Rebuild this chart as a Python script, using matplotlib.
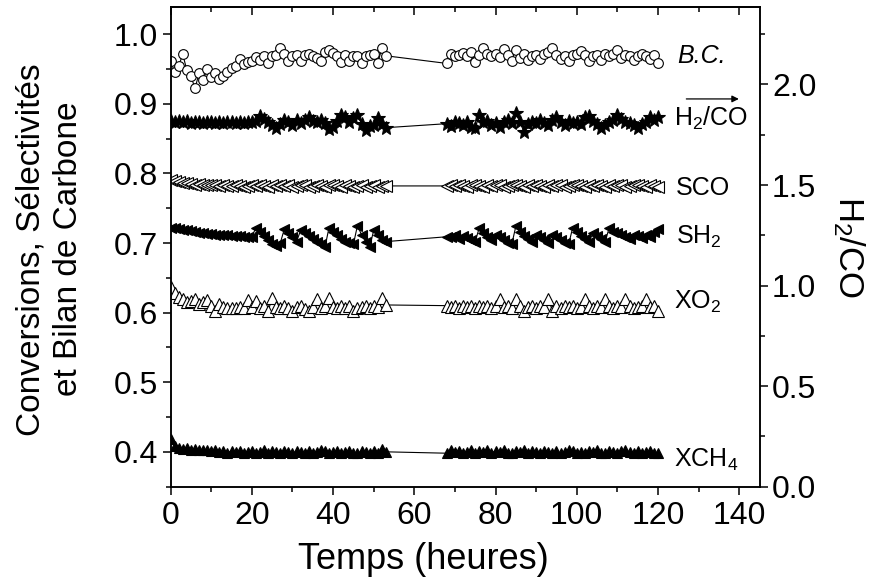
import numpy as np
import matplotlib
matplotlib.use("Agg")
import matplotlib.pyplot as plt
from matplotlib.ticker import FormatStrFormatter

plt.rcParams['font.family'] = ['Liberation Sans', 'DejaVu Sans']
plt.rcParams['mathtext.fontset'] = 'custom'
plt.rcParams['mathtext.rm'] = 'Liberation Sans'
plt.rcParams['mathtext.it'] = 'Liberation Sans:italic'

# temps (heures): two measurement periods
t1 = np.arange(0, 54)
t2 = np.arange(68, 121)

bc_1 = [0.962, 0.945, 0.955, 0.971, 0.948, 0.940, 0.922, 0.944, 0.934, 0.950,
        0.938, 0.944, 0.935, 0.940, 0.946, 0.952, 0.954, 0.964, 0.957, 0.960,
        0.962, 0.967, 0.963, 0.968, 0.958, 0.969, 0.970, 0.980, 0.971, 0.962,
        0.969, 0.970, 0.961, 0.970, 0.972, 0.968, 0.966, 0.961, 0.975, 0.977,
        0.973, 0.969, 0.960, 0.970, 0.962, 0.969, 0.968, 0.958, 0.969, 0.970,
        0.971, 0.958, 0.980, 0.969]
bc_2 = [0.958, 0.972, 0.968, 0.970, 0.973, 0.968, 0.974, 0.960, 0.970, 0.980,
        0.972, 0.969, 0.971, 0.967, 0.979, 0.970, 0.962, 0.978, 0.966, 0.971,
        0.963, 0.968, 0.970, 0.965, 0.971, 0.974, 0.980, 0.970, 0.964, 0.968,
        0.961, 0.970, 0.972, 0.976, 0.970, 0.962, 0.969, 0.970, 0.963, 0.971,
        0.969, 0.972, 0.978, 0.966, 0.970, 0.968, 0.963, 0.969, 0.971, 0.968,
        0.964, 0.970, 0.959]

h2co_1 = [1.818, 1.815, 1.820, 1.812, 1.816, 1.810, 1.814, 1.812, 1.808, 1.811,
          1.813, 1.810, 1.812, 1.808, 1.811, 1.813, 1.810, 1.812, 1.809, 1.813,
          1.812, 1.820, 1.845, 1.830, 1.815, 1.800, 1.782, 1.805, 1.825, 1.812,
          1.800, 1.822, 1.810, 1.825, 1.840, 1.818, 1.815, 1.822, 1.808, 1.780,
          1.790, 1.820, 1.848, 1.840, 1.812, 1.835, 1.850, 1.805, 1.775, 1.795,
          1.800, 1.835, 1.805, 1.785]
h2co_2 = [1.805, 1.795, 1.815, 1.808, 1.800, 1.812, 1.790, 1.782, 1.848, 1.812,
          1.820, 1.800, 1.806, 1.790, 1.815, 1.822, 1.810, 1.857, 1.812, 1.766,
          1.805, 1.815, 1.810, 1.822, 1.808, 1.800, 1.825, 1.840, 1.812, 1.800,
          1.818, 1.808, 1.815, 1.805, 1.838, 1.842, 1.820, 1.805, 1.782, 1.800,
          1.815, 1.822, 1.848, 1.830, 1.812, 1.808, 1.800, 1.782, 1.805, 1.815,
          1.838, 1.825, 1.840]

sco_1 = [0.790, 0.789, 0.787, 0.786, 0.786, 0.785, 0.784, 0.785, 0.784, 0.783,
         0.783, 0.784, 0.782, 0.783, 0.782, 0.782, 0.783, 0.782, 0.781, 0.782,
         0.783, 0.782, 0.784, 0.782, 0.781, 0.783, 0.782, 0.784, 0.782, 0.783,
         0.781, 0.782, 0.784, 0.783, 0.781, 0.782, 0.783, 0.782, 0.781, 0.783,
         0.784, 0.782, 0.781, 0.783, 0.782, 0.781, 0.782, 0.783, 0.781, 0.782,
         0.783, 0.781, 0.782, 0.782]
sco_2 = [0.782, 0.783, 0.782, 0.784, 0.782, 0.781, 0.783, 0.784, 0.782, 0.781,
         0.783, 0.782, 0.784, 0.783, 0.781, 0.782, 0.783, 0.784, 0.782, 0.781,
         0.783, 0.782, 0.784, 0.782, 0.781, 0.783, 0.782, 0.784, 0.783, 0.781,
         0.782, 0.783, 0.784, 0.782, 0.781, 0.783, 0.782, 0.784, 0.782, 0.781,
         0.783, 0.782, 0.784, 0.783, 0.781, 0.782, 0.783, 0.784, 0.782, 0.781,
         0.783, 0.782, 0.781]

sh2_1 = [0.722, 0.721, 0.720, 0.719, 0.718, 0.717, 0.716, 0.715, 0.714, 0.713,
         0.713, 0.712, 0.712, 0.711, 0.711, 0.710, 0.710, 0.710, 0.709, 0.709,
         0.709, 0.722, 0.716, 0.710, 0.704, 0.698, 0.695, 0.700, 0.720, 0.714,
         0.708, 0.702, 0.718, 0.714, 0.710, 0.706, 0.702, 0.698, 0.694, 0.722,
         0.716, 0.712, 0.706, 0.702, 0.700, 0.698, 0.725, 0.712, 0.702, 0.694,
         0.718, 0.712, 0.704, 0.702]
sh2_2 = [0.709, 0.708, 0.712, 0.706, 0.710, 0.707, 0.705, 0.702, 0.722, 0.714,
         0.708, 0.704, 0.712, 0.708, 0.704, 0.700, 0.698, 0.724, 0.716, 0.710,
         0.706, 0.702, 0.712, 0.708, 0.704, 0.700, 0.712, 0.708, 0.704, 0.700,
         0.698, 0.722, 0.716, 0.710, 0.706, 0.702, 0.714, 0.710, 0.706, 0.702,
         0.722, 0.716, 0.714, 0.712, 0.708, 0.706, 0.712, 0.710, 0.707, 0.712,
         0.709, 0.716, 0.720]

xo2_1 = [0.637, 0.628, 0.622, 0.620, 0.615, 0.617, 0.620, 0.612, 0.615, 0.618,
         0.610, 0.602, 0.612, 0.608, 0.606, 0.607, 0.606, 0.608, 0.607, 0.618,
         0.608, 0.616, 0.606, 0.609, 0.602, 0.621, 0.608, 0.607, 0.609, 0.606,
         0.603, 0.608, 0.610, 0.605, 0.603, 0.608, 0.620, 0.607, 0.609, 0.621,
         0.608, 0.606, 0.610, 0.607, 0.609, 0.602, 0.607, 0.608, 0.610, 0.606,
         0.609, 0.608, 0.621, 0.611]
xo2_2 = [0.610, 0.608, 0.609, 0.607, 0.610, 0.608, 0.609, 0.606, 0.610, 0.608,
         0.609, 0.607, 0.610, 0.620, 0.608, 0.609, 0.607, 0.620, 0.609, 0.603,
         0.608, 0.610, 0.607, 0.609, 0.608, 0.620, 0.603, 0.609, 0.607, 0.610,
         0.608, 0.609, 0.607, 0.608, 0.620, 0.609, 0.607, 0.610, 0.608, 0.620,
         0.609, 0.607, 0.610, 0.608, 0.620, 0.609, 0.607, 0.608, 0.610, 0.620,
         0.608, 0.609, 0.603]

xch4_1 = [0.418, 0.408, 0.406, 0.404, 0.405, 0.403, 0.404, 0.402, 0.403, 0.402,
          0.401, 0.402, 0.400, 0.401, 0.399, 0.401, 0.400, 0.401, 0.399, 0.400,
          0.401, 0.399, 0.400, 0.402, 0.398, 0.401, 0.400, 0.399, 0.401, 0.400,
          0.398, 0.401, 0.400, 0.399, 0.401, 0.398, 0.400, 0.402, 0.401, 0.399,
          0.400, 0.401, 0.398, 0.400, 0.401, 0.399, 0.398, 0.401, 0.400, 0.398,
          0.401, 0.399, 0.404, 0.400]
xch4_2 = [0.398, 0.402, 0.400, 0.401, 0.399, 0.400, 0.402, 0.398, 0.401, 0.400,
          0.403, 0.399, 0.401, 0.400, 0.402, 0.399, 0.398, 0.401, 0.400, 0.402,
          0.399, 0.401, 0.400, 0.398, 0.401, 0.400, 0.399, 0.401, 0.398, 0.400,
          0.402, 0.401, 0.399, 0.400, 0.398, 0.401, 0.400, 0.402, 0.399, 0.398,
          0.401, 0.400, 0.399, 0.401, 0.402, 0.400, 0.398, 0.401, 0.399, 0.400,
          0.401, 0.399, 0.398]

t = np.concatenate([t1, t2])

fig = plt.figure(figsize=(8.75, 5.87), dpi=100)
ax = fig.add_axes([0.195, 0.171, 0.673, 0.817])
ax2 = ax.twinx()

lw = 0.8
mew = 0.8
ax.plot(t, bc_1 + bc_2, '-', color='black', lw=lw, marker='o', ms=7,
        mfc='white', mec='black', mew=mew)
ax.plot(t, sco_1 + sco_2, '-', color='black', lw=lw, marker='<', ms=8,
        mfc='white', mec='black', mew=mew)
ax.plot(t, sh2_1 + sh2_2, '-', color='black', lw=lw, marker='<', ms=7.5,
        mfc='black', mec='black', mew=mew)
ax.plot(t, xo2_1 + xo2_2, '-', color='black', lw=lw, marker='^', ms=8,
        mfc='white', mec='black', mew=mew)
ax.plot(t, xch4_1 + xch4_2, '-', color='black', lw=lw, marker='^', ms=7.5,
        mfc='black', mec='black', mew=mew)
ax2.plot(t, h2co_1 + h2co_2, '-', color='black', lw=lw, marker='*', ms=10,
         mfc='black', mec='black', mew=mew)

ax.set_xlim(0, 145)
ax.set_ylim(0.35, 1.039)
ax2.set_ylim(0, 2.385)

ax.set_xticks(np.arange(0, 141, 20))
ax.set_xticks(np.arange(0, 141, 10), minor=True)
ax.set_yticks(np.arange(0.4, 1.01, 0.1))
ax.set_yticks(np.arange(0.35, 1.04, 0.05), minor=True)
ax.yaxis.set_major_formatter(FormatStrFormatter('%.1f'))
ax2.set_yticks(np.arange(0, 2.01, 0.5))
ax2.set_yticks(np.arange(0, 2.3, 0.25), minor=True)
ax2.yaxis.set_major_formatter(FormatStrFormatter('%.1f'))

fs_tick = 23
ax.tick_params(axis='x', which='both', direction='out', top=False,
               labelsize=fs_tick, width=1.1, pad=4)
ax.tick_params(axis='y', which='both', direction='out', right=False,
               labelsize=fs_tick, width=1.1, pad=3)
ax2.tick_params(axis='y', which='both', direction='out',
                labelsize=fs_tick, width=1.1, pad=3)
for a in (ax, ax2):
    a.tick_params(which='major', length=6)
    a.tick_params(which='minor', length=3.5)
    for s in a.spines.values():
        s.set_linewidth(1.1)

# inward ticks on the top edge
sec = ax.secondary_xaxis('top')
sec.set_xticks(np.arange(0, 141, 20))
sec.set_xticks(np.arange(0, 141, 10), minor=True)
sec.tick_params(which='both', direction='in', labeltop=False, width=1.1)
sec.tick_params(which='major', length=6)
sec.tick_params(which='minor', length=3.5)
sec.spines['top'].set_linewidth(1.1)

ax.set_xlabel('Temps (heures)', fontsize=26, va='center')
ax.xaxis.set_label_coords(0.43, -0.153)
ax.set_ylabel('Conversions, Sélectivités\net Bilan de Carbone', fontsize=24,
              linespacing=1.25, va='center', ha='center',
              rotation_mode='default')
ax.yaxis.set_label_coords(-0.205, 0.495)
ax2.set_ylabel('H$_2$/CO', fontsize=25, rotation=270, va='center',
               ha='center', rotation_mode='default')
ax2.yaxis.set_label_coords(1.152, 0.5)

fs_lab = 18
ax.text(124.8, 0.958, 'B.C.', fontsize=fs_lab, style='italic')
ax.text(123.9, 0.869, 'H$_2$/CO', fontsize=fs_lab)
ax.text(124.4, 0.769, 'SCO', fontsize=fs_lab)
ax.text(124.4, 0.699, 'SH$_2$', fontsize=fs_lab)
ax.text(123.9, 0.606, 'XO$_2$', fontsize=fs_lab)
ax.text(123.9, 0.378, 'XCH$_4$', fontsize=fs_lab)
ax2.annotate('', xy=(140.6, 1.928), xytext=(126.3, 1.928),
             arrowprops=dict(arrowstyle='-|>', color='black', lw=0.9,
                             mutation_scale=10))

fig.savefig('out.png', dpi=100)
